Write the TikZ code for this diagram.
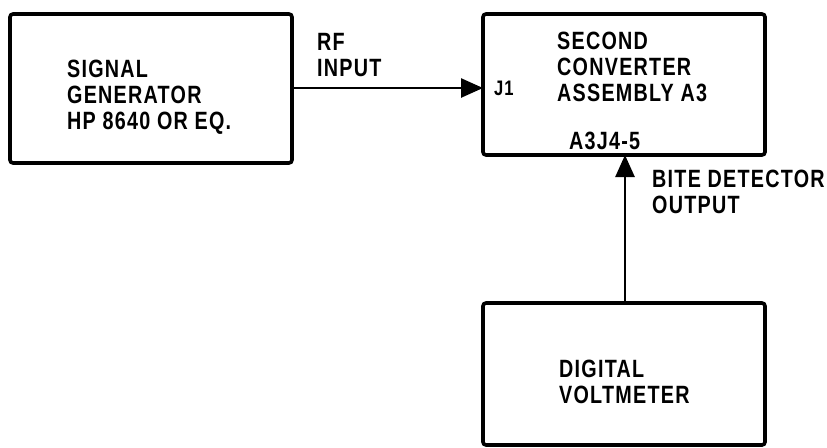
\documentclass[tikz,border=0pt]{standalone}
\usepackage{fontspec}
\newfontfamily\lblfont[FakeStretch=0.79, LetterSpace=5]{Liberation Sans}
\usetikzlibrary{arrows.meta}
\tikzset{
  blk/.style={draw, line width=3.6pt, rounded corners=3pt},
  lbl/.style={anchor=north west, inner sep=0pt, align=left,
    font=\lblfont\bfseries\fontsize{25}{26}\selectfont},
  small/.style={anchor=north west, inner sep=0pt, align=left,
    font=\lblfont\bfseries\fontsize{21}{22}\selectfont},
  conn/.style={line width=2.6pt, -{Triangle[length=22pt, width=19pt]}}
}
\begin{document}
\begin{tikzpicture}[x=1pt, y=-1pt]
\useasboundingbox (0,0) rectangle (827,447);
\draw[blk] (10,14) rectangle (292,163);
\draw[blk] (483,14) rectangle (765,155);
\draw[blk] (483,303) rectangle (765,445);
\coordinate (gen) at (292,88);
\coordinate (j1) at (483,88);
\coordinate (out) at (625,155);
\coordinate (dvm) at (625,303);
\node[lbl] (t1) at (67,60) {SIGNAL\\GENERATOR\\HP 8640 OR EQ.};
\node[lbl] (t2) at (317,33) {RF\\INPUT};
\node[lbl] (t3) at (557,32) {SECOND\\CONVERTER\\ASSEMBLY A3};
\node[small] (t4) at (494,81) {J1};
\node[lbl] (t5) at (569,132) {A3J4-5};
\node[lbl] (t6) at (652,170) {BITE DETECTOR\\OUTPUT};
\node[lbl] (t7) at (559,360) {DIGITAL\\VOLTMETER};
\draw[conn] (gen) -- (j1);
\draw[conn] (dvm) -- (out);
\end{tikzpicture}
\end{document}
